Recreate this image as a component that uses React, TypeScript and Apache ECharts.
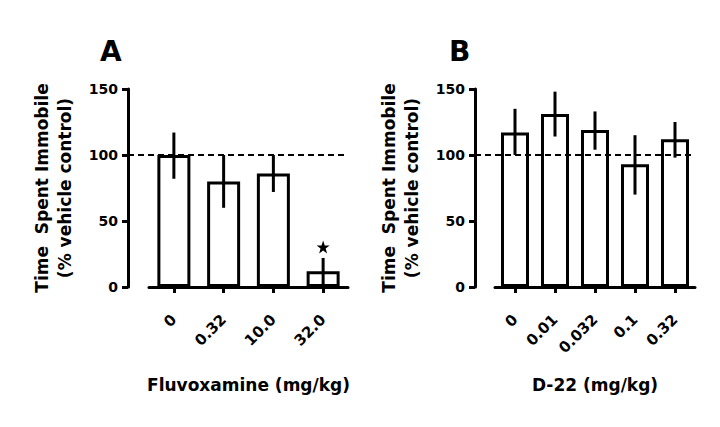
import React, { useEffect, useRef } from "react";
import * as echarts from "echarts";

const catA = ["0", "0.32", "10.0", "32.0"];
const meanA = [100, 80, 86, 12];
const lowA = [82, 60, 72, 2];
const highA = [117, 100, 100, 22];
const sigA = [false, false, false, true];

const catB = ["0", "0.01", "0.032", "0.1", "0.32"];
const meanB = [117, 131, 119, 93, 112];
const lowB = [100, 114, 104, 70, 98];
const highB = [135, 148, 133, 115, 125];

const refValue = 100;
const yMin = 0;
const yMax = 150;
const yStep = 50;

const titleA = "Fluvoxamine (mg/kg)";
const titleB = "D-22 (mg/kg)";
const yTitle = "Time  Spent Immobile\n(% vehicle control)";

const FONT = "DejaVu Sans, sans-serif";
const STAR =
  "path://M50,0 L61.8,35.1 L98.1,35.1 L68.8,56.8 L79.4,90.5 L50,69.9 L20.6,90.5 L31.2,56.8 L1.9,35.1 L38.2,35.1 Z";

function errRender(params: any, api: any) {
  const x = api.value(0);
  const p1 = api.coord([x, api.value(1)]);
  const p2 = api.coord([x, api.value(2)]);
  return {
    type: "line",
    shape: { x1: p1[0], y1: p1[1], x2: p2[0], y2: p2[1] },
    style: { stroke: "#000", lineWidth: 3 },
  };
}

export default function App() {
  const ref = useRef<HTMLDivElement>(null);
  useEffect(() => {
    if (!ref.current) return;
    const chart = echarts.init(ref.current, null, { renderer: "svg" });
    const top = 89;
    const height = 198;

    const catAxis = (data: string[], gridIndex: number, name: string) => ({
      type: "category",
      gridIndex,
      data,
      offset: 20,
      boundaryGap: true,
      name,
      nameLocation: "middle",
      nameGap: 69,
      nameTextStyle: { fontFamily: FONT, fontWeight: "bold", fontSize: 17, color: "#000" },
      axisLine: { show: true, lineStyle: { color: "#000", width: 3 } },
      axisTick: { show: true, alignWithLabel: true, length: 6, lineStyle: { color: "#000", width: 3 } },
      axisLabel: {
        rotate: 45,
        margin: 10,
        fontFamily: FONT,
        fontWeight: "bold",
        fontSize: 15,
        color: "#000",
        interval: 0,
      },
      splitLine: { show: false },
    });

    const valAxis = (gridIndex: number, offset: number) => ({
      type: "value",
      gridIndex,
      min: yMin,
      max: yMax,
      interval: yStep,
      offset,
      name: yTitle,
      nameLocation: "middle",
      nameRotate: 90,
      nameGap: 52,
      nameTextStyle: {
        fontFamily: FONT,
        fontWeight: "bold",
        fontSize: 17,
        color: "#000",
        lineHeight: 23,
        align: "center",
        verticalAlign: "bottom",
      },
      axisLine: { show: true, lineStyle: { color: "#000", width: 3 } },
      axisTick: { show: true, length: 6, lineStyle: { color: "#000", width: 3 } },
      axisLabel: { margin: 10, fontFamily: FONT, fontWeight: "bold", fontSize: 14, color: "#000" },
      splitLine: { show: false },
    });

    const hiddenX = (gridIndex: number) => ({
      type: "value",
      gridIndex,
      min: 0,
      max: 1,
      show: false,
    });
    const hiddenY = (gridIndex: number) => ({
      type: "value",
      gridIndex,
      min: yMin,
      max: yMax,
      show: false,
    });

    const dashed = {
      type: "line",
      symbol: "none",
      silent: true,
      z: 10,
      lineStyle: { color: "#000", width: 2, type: [6, 4] },
      data: [
        [0, refValue],
        [1, refValue],
      ],
    };

    chart.setOption({
      animation: false,
      backgroundColor: "#fff",
      title: [
        {
          text: "A",
          left: 100,
          top: 37,
          padding: 0,
          textStyle: { fontFamily: FONT, fontWeight: "bold", fontSize: 28, color: "#000" },
        },
        {
          text: "B",
          left: 449,
          top: 37,
          padding: 0,
          textStyle: { fontFamily: FONT, fontWeight: "bold", fontSize: 28, color: "#000" },
        },
      ],
      grid: [
        { left: 149, top, width: 199, height },
        { left: 128, top, width: 220, height },
        { left: 495, top, width: 200, height },
        { left: 475, top, width: 218, height },
      ],
      xAxis: [
        catAxis(catA, 0, titleA),
        hiddenX(1),
        catAxis(catB, 2, titleB),
        hiddenX(3),
      ],
      yAxis: [valAxis(0, 21), hiddenY(1), valAxis(2, 20), hiddenY(3)],
      series: [
        {
          type: "bar",
          xAxisIndex: 0,
          yAxisIndex: 0,
          data: meanA,
          barWidth: 33,
          itemStyle: { color: "#fff", borderColor: "#000", borderWidth: 3 },
        },
        {
          type: "custom",
          xAxisIndex: 0,
          yAxisIndex: 0,
          renderItem: errRender,
          z: 5,
          data: catA.map((_, i) => [i, lowA[i], highA[i]]),
        },
        {
          type: "scatter",
          xAxisIndex: 0,
          yAxisIndex: 0,
          symbol: STAR,
          symbolSize: 13,
          symbolOffset: [0, -11],
          itemStyle: { color: "#000", opacity: 1 },
          data: catA.map((_, i) => (sigA[i] ? [i, highA[i]] : null)).filter((d) => d),
        },
        { ...dashed, xAxisIndex: 1, yAxisIndex: 1 },
        {
          type: "bar",
          xAxisIndex: 2,
          yAxisIndex: 2,
          data: meanB,
          barWidth: 28,
          itemStyle: { color: "#fff", borderColor: "#000", borderWidth: 3 },
        },
        {
          type: "custom",
          xAxisIndex: 2,
          yAxisIndex: 2,
          renderItem: errRender,
          z: 5,
          data: catB.map((_, i) => [i, lowB[i], highB[i]]),
        },
        { ...dashed, xAxisIndex: 3, yAxisIndex: 3 },
      ],
    });
    return () => chart.dispose();
  }, []);
  return (
    <div
      ref={ref}
      style={{ position: "fixed", left: 0, top: 0, width: 720, height: 427, background: "#fff" }}
    />
  );
}
